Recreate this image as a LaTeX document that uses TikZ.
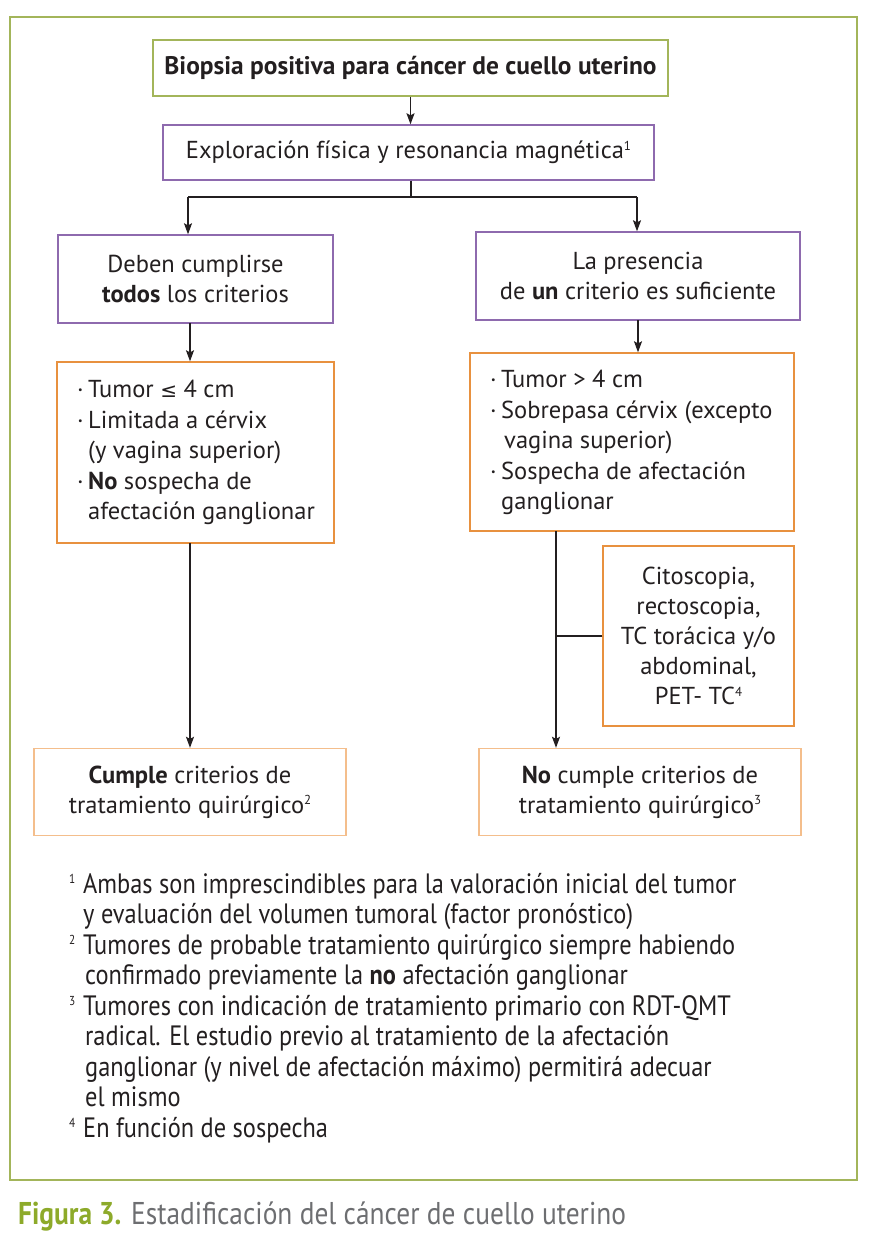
\documentclass[tikz,border=0pt]{standalone}
\usepackage{fontspec}
\setmainfont{PT Sans}
\newfontfamily\condfont[FakeStretch=0.87]{PT Sans}
\newfontfamily\symfont{DejaVu Sans}
\usetikzlibrary{arrows.meta}
\definecolor{frgreen}{HTML}{A3B55A}
\definecolor{capgreen}{HTML}{8DAA2A}
\definecolor{purp}{HTML}{8E6AAE}
\definecolor{orng}{HTML}{E8913F}
\definecolor{lorng}{HTML}{F4BE8C}
\definecolor{txt}{HTML}{231F20}
\definecolor{capgray}{HTML}{6D6E71}
\newcommand{\bul}{\makebox[11pt][l]{\textperiodcentered}}
\newcommand{\ind}{\hspace*{11pt}}
\newcommand{\sups}[1]{\smash{\raisebox{0.34em}{\fontsize{13}{13}\selectfont #1}}}
\tikzset{
  box/.style={draw, line width=1.4pt, text=txt, inner sep=0pt, align=center,
    font=\fontsize{24.5}{30}\selectfont},
  gbox/.style={box, draw=frgreen},
  pbox/.style={box, draw=purp},
  obox/.style={box, draw=orng},
  lbox/.style={box, draw=lorng},
  conn/.style={line width=1.3pt, draw=txt},
  arr/.style={conn, -{Stealth[length=11pt,width=8pt,inset=2pt]}},
  listtxt/.style={align=left, anchor=north west, text=txt, inner sep=0pt,
    font=\fontsize{24.5}{30.5}\selectfont},
}
\begin{document}
\begin{tikzpicture}[x=1pt,y=-1pt]
\useasboundingbox (0,0) rectangle (868,1234);
% outer frame
\draw[frgreen, line width=1.2pt] (10,17) rectangle (857,1180);

\node[gbox, minimum width=515, minimum height=56] (b1) at (410.5,68)
  {\fontsize{25.4}{28}\selectfont\bfseries Biopsia positiva para cáncer de cuello uterino};
\node[pbox, minimum width=491, minimum height=55] (b2) at (408.5,152.5)
  {Exploración física y resonancia magnética\sups{1}};

\node[pbox, minimum width=275, minimum height=88] (l1) at (195.5,279)
  {Deben cumplirse\\\textbf{todos} los criterios};
\node[pbox, minimum width=324, minimum height=88] (r1) at (638,276)
  {La presencia\\de \textbf{un} criterio es suficiente};

\node[obox, minimum width=277, minimum height=181] (l2) at (195.5,452.5) {};
\node[listtxt] (l2t) at (77,380)
  {\bul Tumor {\symfont\fontsize{20}{30}\selectfont ≤} 4 cm\\
   \bul Limitada a cérvix\\
   \ind(y vagina superior)\\
   \bul\textbf{No} sospecha de\\
   \ind afectación ganglionar};

\node[obox, minimum width=324, minimum height=178] (r2) at (632,442) {};
\node[listtxt] (r2t) at (490,370)
  {\bul Tumor > 4 cm\\
   \bul Sobrepasa cérvix (excepto\\
   \ind\hspace*{3pt}vagina superior)\\
   \bul Sospecha de afectación\\
   \ind ganglionar};

\node[obox, minimum width=191, minimum height=180] (side) at (698.5,636)
  {Citoscopia,\\rectoscopia,\\TC torácica y/o\\abdominal,\\PET- TC\sups{4}};

\node[lbox, minimum width=312, minimum height=87] (l3) at (190,792)
  {\textbf{Cumple} criterios de\\tratamiento quirúrgico\sups{2}};
\node[lbox, minimum width=322, minimum height=87] (r3) at (640,792)
  {\textbf{No} cumple criterios de\\tratamiento quirúrgico\sups{3}};

% connectors
\draw[arr] (b1.south) -- (b1.south |- b2.north);
\coordinate (split) at (411,197);
\coordinate (lsplit) at (188,197);
\coordinate (rsplit) at (637,197);
\draw[conn] (b2.south -| split) -- (split);
\draw[conn] (lsplit) -- (rsplit);
\draw[arr] (lsplit) -- (lsplit |- l1.north);
\draw[arr] (rsplit) -- (rsplit |- r1.north);
\coordinate (lx) at (190,323);
\draw[arr] (lx) -- (lx |- l2.north);
\coordinate (rx) at (638,320);
\draw[arr] (rx) -- (rx |- r2.north);
\coordinate (lb) at (190,543);
\draw[arr] (lb) -- (lb |- l3.north);
\coordinate (rb) at (556,531);
\draw[arr] (rb) -- (rb |- r3.north);
\draw[conn] (side.west) -- (side.west -| rb);

% footnotes
\node[align=left, anchor=north west, text=txt, inner sep=0pt,
  font=\condfont\fontsize{28}{30.5}\selectfont] (notes) at (69,873)
  {\makebox[14pt][l]{\sups{1}}Ambas son imprescindibles para la valoración inicial del tumor\\
   \hspace*{14pt}y evaluación del volumen tumoral (factor pronóstico)\\
   \makebox[14pt][l]{\sups{2}}Tumores de probable tratamiento quirúrgico siempre habiendo\\
   \hspace*{16pt}confirmado previamente la \textbf{no} afectación ganglionar\\
   \makebox[14pt][l]{\sups{3}}Tumores con indicación de tratamiento primario con RDT-QMT\\
   \hspace*{16pt}radical. El estudio previo al tratamiento de la afectación\\
   \hspace*{16pt}ganglionar (y nivel de afectación máximo) permitirá adecuar\\
   \hspace*{16pt}el mismo\\
   \makebox[14pt][l]{\sups{4}}En función de sospecha};

% caption
\node[anchor=west, inner sep=0pt, font=\condfont\fontsize{31.5}{34}\selectfont] (cap) at (18,1216)
  {\textcolor{capgreen}{\bfseries Figura 3.} \textcolor{capgray}{Estadificación del cáncer de cuello uterino}};
\end{tikzpicture}
\end{document}
